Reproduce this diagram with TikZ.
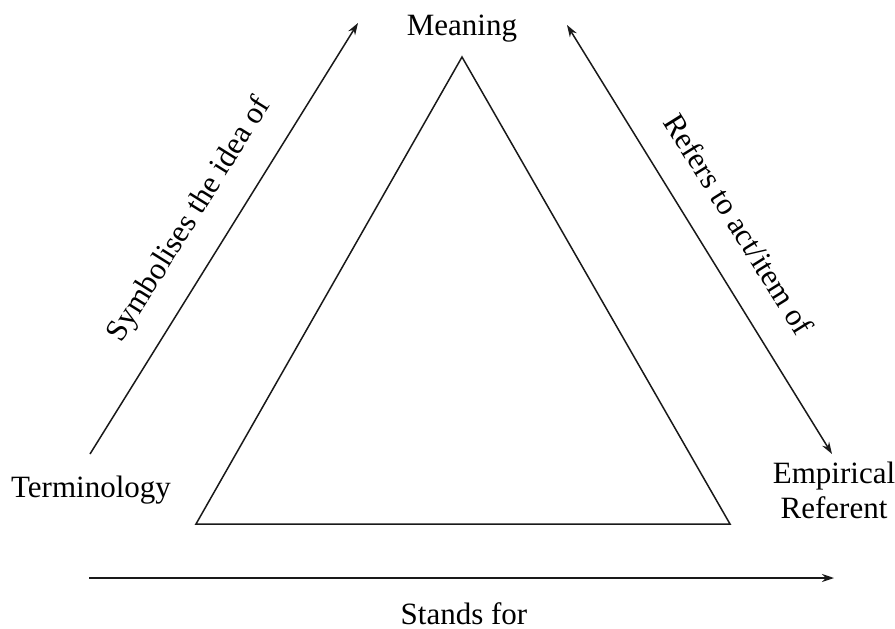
\documentclass[tikz,border=0pt]{standalone}
\usepackage{fontspec}
\setmainfont{Liberation Serif}
\usetikzlibrary{arrows.meta}
\tikzset{
  lbl/.style={font=\fontsize{31}{35}\selectfont, inner sep=0pt},
  conn/.style={line width=1.5pt, draw=black!90},
  tip/.style={-{Stealth[length=12pt,width=8pt]}},
  tips/.style={{Stealth[length=12pt,width=8pt]}-{Stealth[length=12pt,width=8pt]}},
}
\begin{document}
\begin{tikzpicture}[x=1pt,y=-1pt]
\useasboundingbox (0,0) rectangle (895,629);
% triangle
\coordinate (t1) at (462,57);
\coordinate (t2) at (196,524);
\coordinate (t3) at (730,524);
\draw[conn, line join=miter] (t1) -- (t2) -- (t3) -- cycle;
% texts
\node[lbl, anchor=base] (mean) at (462,35) {Meaning};
\node[lbl, anchor=base] (term) at (91,497) {Terminology};
\node[lbl, anchor=base, align=center] (emp) at (834,518) {Empirical\\Referent};
\node[lbl, anchor=base] (stand) at (464,624) {Stands for};
% arrow endpoints
\coordinate (a1) at (90,454);
\coordinate (a2) at (358,23);
\coordinate (b1) at (567,25);
\coordinate (b2) at (832,454);
\coordinate (c1) at (89,578);
\coordinate (c2) at (834,578);
\draw[conn, tip] (a1) -- (a2);
\draw[conn, tips] (b1) -- (b2);
\draw[conn, tip] (c1) -- (c2);
% sloped labels
\node[lbl, rotate=58] (sym) at (190,220) {Symbolises the idea of};
\node[lbl, rotate=-58] (ref) at (739,224) {Refers to act/item of};
\end{tikzpicture}
\end{document}
